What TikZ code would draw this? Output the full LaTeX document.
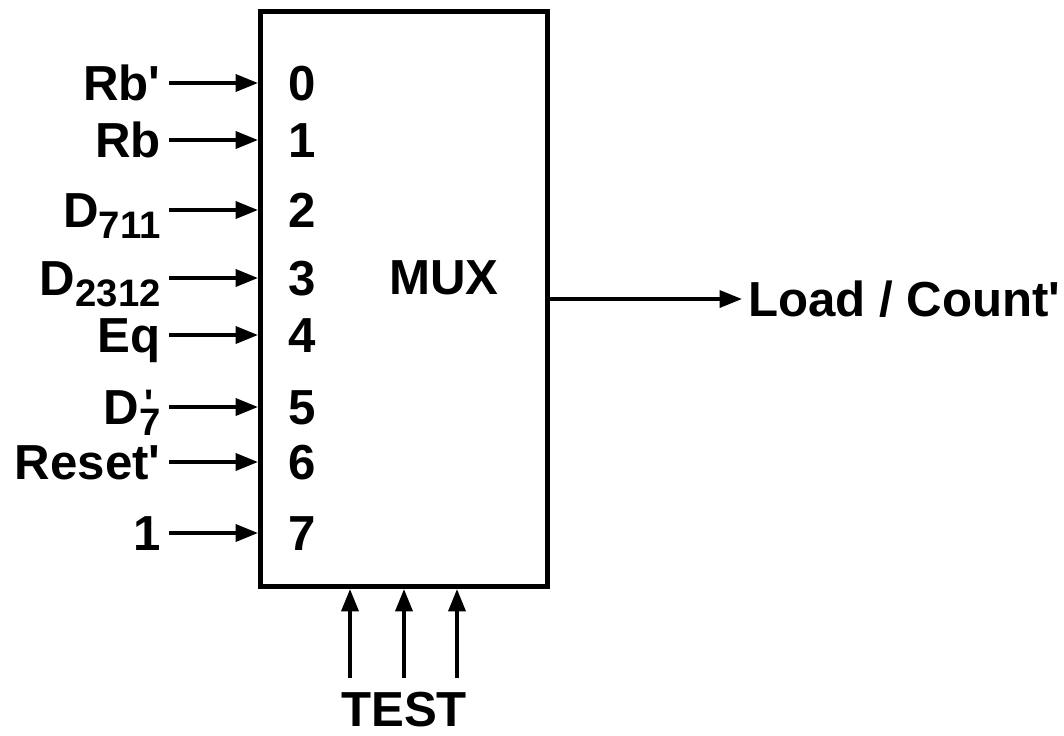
\documentclass[tikz,border=0pt]{standalone}
\usepackage{fontspec}
\setmainfont{Liberation Sans}
\usetikzlibrary{arrows.meta,positioning}

% lowered index, large like the slide it comes from
\newcommand{\lowidx}[1]{\raisebox{-0.22cm}{\fontsize{21.8}{24}\selectfont #1}}
\newcommand{\prm}{\textquotesingle}

\begin{document}
\begin{tikzpicture}[x=0.02cm, y=-0.02cm,
  every node/.style={font=\fontsize{28}{32}\selectfont\bfseries, text height=20pt, text depth=0pt},
  muxbox/.style={rectangle, draw, line width=0.1cm, minimum width=5.74cm, minimum height=11.5cm, inner sep=0pt},
  inlbl/.style={anchor=east, inner sep=0.16cm},
  arr/.style={-{Triangle[length=0.45cm, width=0.34cm]}, line width=0.075cm}
]
  \useasboundingbox (0,0) rectangle (1064,735);

  \node[muxbox] (mux) at (404,299) {};
  \node (muxlbl) at (444,277) {MUX};

  % data inputs
  \foreach \i/\y/\txt in {0/83/{Rb\prm}, 1/140/{Rb}, 2/210/{D\lowidx{711}}, 3/278/{D\lowidx{2312}},
                          4/335/{Eq}, 5/407/{D\rlap{\hspace{0.1cm}\raisebox{0.155cm}{\fontsize{21.8}{24}\selectfont\prm}}\lowidx{7}},
                          6/462/{Reset\prm}, 7/533/{1}} {
    \node[inlbl] (in\i) at (169,\y) {\txt};
    \node (d\i) at (302,\y) {\i};
    \draw[arr] (in\i.east) -- (in\i.east -| mux.west);
  }

  % output
  \node[anchor=west, inner sep=0.12cm] (out) at (742,299) {Load / Count\prm};
  \draw[arr] (out.west -| mux.east) -- (out.west);

  % select lines
  \node (test) at (404,709) {TEST};
  \foreach \i/\x in {0/350, 1/404, 2/457} {
    \coordinate (sel\i) at (\x,678);
    \draw[arr] (sel\i) -- (sel\i |- mux.south);
  }
\end{tikzpicture}
\end{document}
